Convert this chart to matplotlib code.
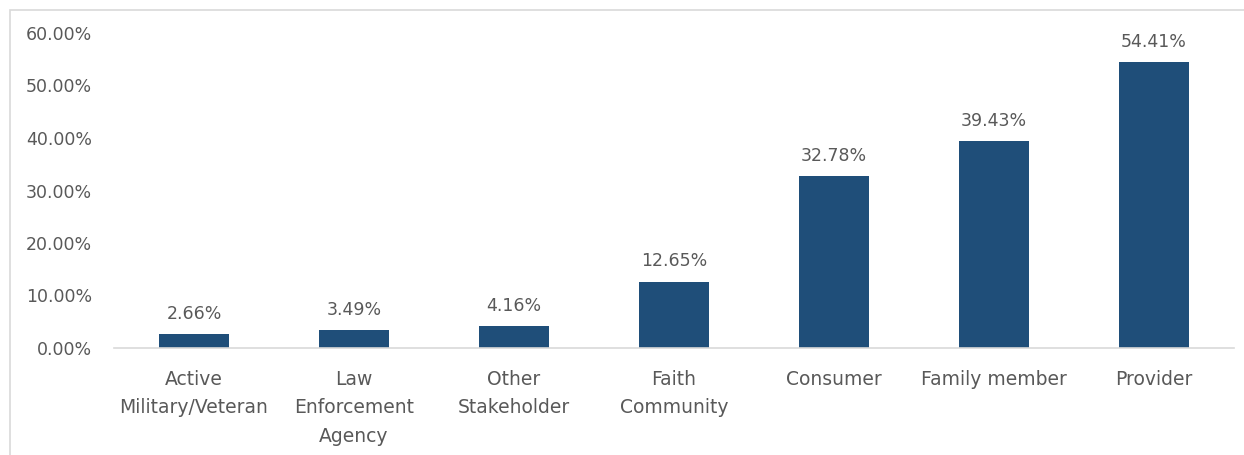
"""Bar chart of respondent share by stakeholder group."""

import matplotlib
matplotlib.use("agg")
import matplotlib.pyplot as plt
from matplotlib.patches import Rectangle
from matplotlib.ticker import FuncFormatter

categories = [
    "Active\nMilitary/Veteran",
    "Law\nEnforcement\nAgency",
    "Other\nStakeholder",
    "Faith\nCommunity",
    "Consumer",
    "Family member",
    "Provider",
]
shares = [2.66, 3.49, 4.16, 12.65, 32.78, 39.43, 54.41]
y_ticks = [0, 10, 20, 30, 40, 50, 60]

bar_color = "#1F4E79"
text_color = "#595959"

plt.rcParams["font.family"] = ["DejaVu Sans"]

fig = plt.figure(figsize=(12.44, 4.55), dpi=100)
ax = fig.add_axes([114 / 1244, 107 / 455, 1120 / 1244, 315 / 455])

# light frame around the chart area, as in the source document
fig.patches.append(Rectangle((10 / 1244, -0.1), 1.2, (455 - 10) / 455 + 0.1,
                             transform=fig.transFigure, fill=False,
                             edgecolor="#D9D9D9", linewidth=1.2))

x = list(range(len(categories)))
bars = ax.bar(x, shares, width=0.44, color=bar_color)

for rect, val in zip(bars, shares):
    ax.annotate(f"{val:.2f}%", (rect.get_x() + rect.get_width() / 2, rect.get_height()),
                xytext=(0, 8), textcoords="offset points",
                ha="center", va="bottom", fontsize=12.5, color=text_color)

ax.set_xlim(-0.5, len(categories) - 0.5)
ax.set_ylim(0, 60)
ax.set_yticks(y_ticks)
ax.yaxis.set_major_formatter(FuncFormatter(lambda v, _: f"{v:.2f}%"))
ax.set_xticks(x)
ax.set_xticklabels(categories, linespacing=1.65)

ax.tick_params(axis="y", length=0, pad=16, labelsize=12.5, labelcolor=text_color)
ax.tick_params(axis="x", length=0, pad=15.5, labelsize=13.5, labelcolor=text_color)

for side in ("top", "right", "left"):
    ax.spines[side].set_visible(False)
ax.spines["bottom"].set_color("#D9D9D9")
ax.spines["bottom"].set_linewidth(1.2)

fig.savefig("out.png", dpi=100)
plt.close(fig)
